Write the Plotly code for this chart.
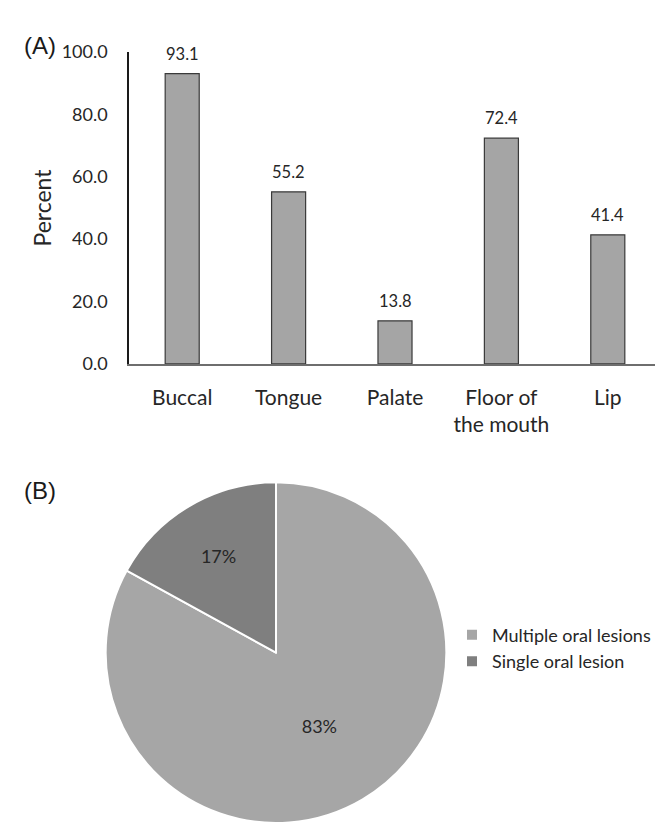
import plotly.graph_objects as go

# ---- data ----
sites = ["Buccal", "Tongue", "Palate", "Floor of<br>the mouth", "Lip"]
site_percent = [93.1, 55.2, 13.8, 72.4, 41.4]
y_ticks = [0, 20, 40, 60, 80, 100]
y_tick_labels = ["0.0", "20.0", "40.0", "60.0", "80.0", "100.0"]

lesion_types = ["Multiple oral lesions", "Single oral lesion"]
lesion_share = [83, 17]

FONT = "Lato"
W, H = 663, 825

fig = go.Figure()

fig.add_trace(go.Bar(
    x=sites, y=site_percent,
    marker=dict(color="#a5a5a5", line=dict(color="#3a3a3a", width=1.2)),
    showlegend=False, xaxis="x", yaxis="y", cliponaxis=False,
    hoverinfo="x+y",
))

for s, v in zip(sites, site_percent):
    fig.add_annotation(x=s, y=v, xref="x", yref="y", text=f"{v:.1f}",
                       showarrow=False, yanchor="bottom", yshift=8,
                       font=dict(family=FONT, size=16.5, color="#262626"))

fig.add_trace(go.Pie(
    labels=lesion_types, values=lesion_share,
    sort=False, direction="clockwise", rotation=0,
    marker=dict(colors=["#a6a6a6", "#7f7f7f"], line=dict(color="white", width=2)),
    textinfo="percent", texttemplate="%{value}%", textposition="inside",
    insidetextorientation="horizontal",
    textfont=dict(family=FONT, size=18, color="#262626"),
    domain=dict(x=[92 / W, 444 / W], y=[0, 350 / H]),
    showlegend=True,
))

fig.update_layout(
    width=W, height=H,
    margin=dict(l=0, r=0, t=0, b=0),
    paper_bgcolor="white", plot_bgcolor="white",
    font=dict(family=FONT, color="#262626"),
    bargap=0.68,
    xaxis=dict(
        domain=[121 / W, 653 / W], anchor="y",
        showline=True, linecolor="#6e6e6e", linewidth=1.5,
        ticks="", showgrid=False, zeroline=False,
        tickfont=dict(family=FONT, size=21, color="#262626"),
        ticklabelstandoff=14,
    ),
    yaxis=dict(
        domain=[(H - 353.3) / H, (H - 33) / H], anchor="x",
        range=[0, 100], tickvals=y_ticks, ticktext=y_tick_labels,
        showline=True, linecolor="#1a1a1a", linewidth=1.5,
        ticks="", showgrid=False, zeroline=False,
        tickfont=dict(family=FONT, size=18, color="#262626"),
        ticklabelstandoff=16,
        title=dict(text="Percent", font=dict(family=FONT, size=23, color="#262626"), standoff=4),
    ),
    legend=dict(
        x=444 / W, y=(H - 613) / H, xanchor="left", yanchor="top",
        font=dict(family=FONT, size=18, color="#262626"),
        bgcolor="rgba(0,0,0,0)",
    ),
)

fig.add_annotation(x=32 / W, y=(H - 26) / H, xref="paper", yref="paper",
                   xanchor="center", yanchor="middle",
                   text="(A)", showarrow=False,
                   font=dict(family="Liberation Sans", size=24, color="#1a1a1a"))
fig.add_annotation(x=32 / W, y=(H - 483) / H, xref="paper", yref="paper",
                   xanchor="center", yanchor="middle",
                   text="(B)", showarrow=False,
                   font=dict(family="Liberation Sans", size=24, color="#1a1a1a"))

fig.write_html("out.html")
